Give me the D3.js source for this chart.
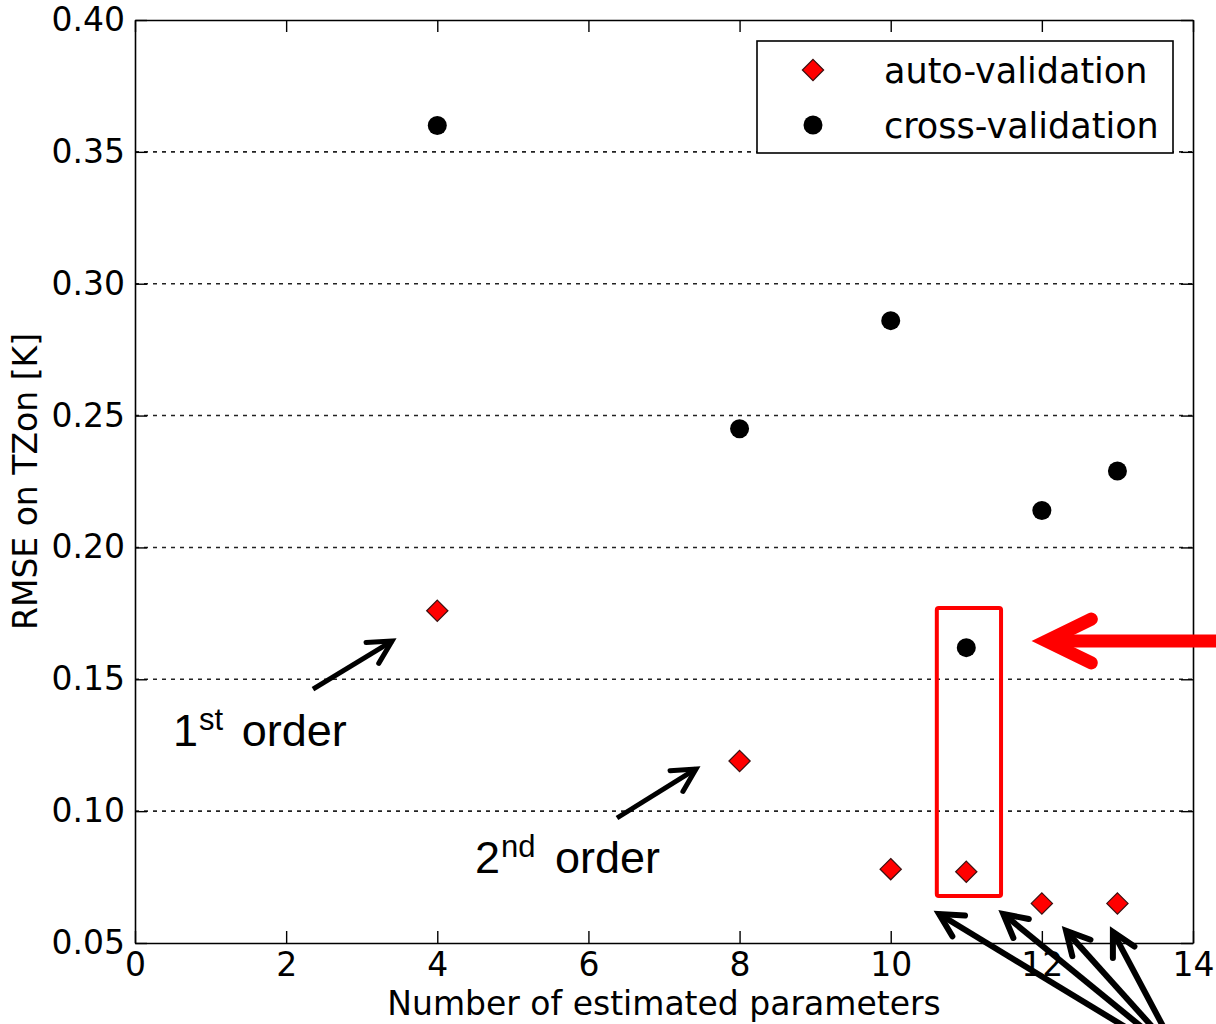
<!DOCTYPE html>
<html>
<head>
<meta charset="utf-8">
<script src="https://cdn.jsdelivr.net/npm/d3@7"></script>
<style>
  html, body { margin: 0; padding: 0; background: #fff; }
  svg { display: block; }
</style>
</head>
<body>
<div id="chart"></div>
<script>
// RMSE vs number of estimated parameters (auto- vs cross-validation)

const paramCounts = [4, 8, 10, 11, 12, 13];
const autoValidation = [0.176, 0.119, 0.078, 0.077, 0.065, 0.065];
const crossValidation = [0.360, 0.245, 0.286, 0.162, 0.214, 0.229];
const xTicks = [0, 2, 4, 6, 8, 10, 12, 14];
const yTicks = [0.05, 0.10, 0.15, 0.20, 0.25, 0.30, 0.35, 0.40];
const legendLabels = ['auto-validation', 'cross-validation'];

const W = 1216, H = 1024;
const m = {top: 20, right: 23, bottom: 81, left: 135};

const svg = d3.select('#chart').append('svg')
  .attr('width', W).attr('height', H);

const x = d3.scaleLinear().domain([0, 14]).range([m.left, W - m.right]);
const y = d3.scaleLinear().domain([0.05, 0.40]).range([H - m.bottom, m.top]);

const tickFont = '"DejaVu Sans", sans-serif';

// horizontal dotted grid
svg.append('g').selectAll('line')
  .data(yTicks.slice(1, -1)).enter().append('line')
  .attr('x1', x(0)).attr('x2', x(14))
  .attr('y1', d => y(d)).attr('y2', d => y(d))
  .attr('stroke', '#222').attr('stroke-width', 1.6)
  .attr('stroke-dasharray', '4,5');

// axes with inward ticks
function styleAxis(g) {
  g.select('.domain').attr('stroke', '#000').attr('stroke-width', 1.6);
  g.selectAll('.tick line').attr('stroke', '#000').attr('stroke-width', 1.4);
  g.selectAll('.tick text').attr('fill', '#000')
    .style('font-family', tickFont).style('font-size', '33px');
}

svg.append('g').attr('transform', `translate(0,${y(0.05)})`)
  .call(d3.axisBottom(x).tickValues(xTicks).tickFormat(d3.format('d'))
    .tickSizeInner(-12).tickSizeOuter(0).tickPadding(10))
  .call(styleAxis);
svg.append('g').attr('transform', `translate(0,${y(0.40)})`)
  .call(d3.axisTop(x).tickValues(xTicks).tickFormat('')
    .tickSizeInner(-12).tickSizeOuter(0))
  .call(styleAxis);
svg.append('g').attr('transform', `translate(${x(0)},0)`)
  .call(d3.axisLeft(y).tickValues(yTicks).tickFormat(d3.format('.2f'))
    .tickSizeInner(-12).tickSizeOuter(0).tickPadding(10))
  .call(styleAxis);
svg.append('g').attr('transform', `translate(${x(14)},0)`)
  .call(d3.axisRight(y).tickValues(yTicks).tickFormat('')
    .tickSizeInner(-12).tickSizeOuter(0))
  .call(styleAxis);

// axis labels
svg.append('text')
  .attr('x', (x(0) + x(14)) / 2).attr('y', 1015)
  .attr('text-anchor', 'middle')
  .style('font-family', tickFont).style('font-size', '33px')
  .text('Number of estimated parameters');
svg.append('text')
  .attr('transform', `translate(37,${(y(0.05) + y(0.40)) / 2}) rotate(-90)`)
  .attr('text-anchor', 'middle')
  .style('font-family', tickFont).style('font-size', '33px')
  .text('RMSE on TZon [K]');

// markers
const diamond = d3.symbol().type(d3.symbolDiamond2).size(2 * 12 * 12);
svg.append('g').selectAll('circle')
  .data(paramCounts).enter().append('circle')
  .attr('cx', d => x(d)).attr('cy', (d, i) => y(crossValidation[i]))
  .attr('r', 9.5).attr('fill', '#000');
svg.append('g').selectAll('path')
  .data(paramCounts).enter().append('path')
  .attr('d', diamond)
  .attr('transform', (d, i) => `translate(${x(d)},${y(autoValidation[i])})`)
  .attr('fill', '#ff0000').attr('stroke', '#3a1010').attr('stroke-width', 1.2);

// legend
const lg = svg.append('g');
lg.append('rect').attr('x', 757).attr('y', 41).attr('width', 416).attr('height', 112)
  .attr('fill', '#fff').attr('stroke', '#000').attr('stroke-width', 1.6);
lg.append('path').attr('d', diamond).attr('transform', 'translate(813,70)')
  .attr('fill', '#ff0000').attr('stroke', '#3a1010').attr('stroke-width', 1.2);
lg.append('circle').attr('cx', 813).attr('cy', 125).attr('r', 9.5).attr('fill', '#000');
lg.selectAll('text').data(legendLabels).enter().append('text')
  .attr('x', 884).attr('y', (d, i) => 83 + i * 55)
  .style('font-family', tickFont).style('font-size', '35px')
  .text(d => d);

// annotations (in data units)
function arrow(g, x0, y0, x1, y1, color, width, head, spread) {
  const px0 = x(x0), py0 = y(y0), px1 = x(x1), py1 = y(y1);
  const a = Math.atan2(py0 - py1, px0 - px1);
  const s = spread * Math.PI / 180;
  g.append('line').attr('x1', px0).attr('y1', py0).attr('x2', px1).attr('y2', py1)
    .attr('stroke', color).attr('stroke-width', width).attr('stroke-linecap', 'butt');
  g.append('path')
    .attr('d', `M${px1 + head * Math.cos(a + s)},${py1 + head * Math.sin(a + s)}L${px1},${py1}L${px1 + head * Math.cos(a - s)},${py1 + head * Math.sin(a - s)}`)
    .attr('fill', 'none').attr('stroke', color).attr('stroke-width', width)
    .attr('stroke-linecap', 'round').attr('stroke-linejoin', 'miter');
}

const ann = svg.append('g');
ann.append('rect')
  .attr('x', x(10.61)).attr('y', y(0.1770))
  .attr('width', x(11.46) - x(10.61)).attr('height', y(0.0678) - y(0.1770))
  .attr('rx', 2).attr('fill', 'none').attr('stroke', '#ff0000').attr('stroke-width', 4);

arrow(ann, 14.6, 0.1645, 12.06, 0.1645, '#ff0000', 13, 50, 26);
arrow(ann, 2.355, 0.1463, 3.401, 0.1645, '#000', 5, 26, 28);
arrow(ann, 6.378, 0.0974, 7.423, 0.1160, '#000', 5, 26, 28);
arrow(ann, 13.17, 0.0170, 10.64, 0.0610, '#000', 6, 26, 28);
arrow(ann, 13.37, 0.0170, 11.49, 0.0610, '#000', 6, 26, 28);
arrow(ann, 13.50, 0.0170, 12.32, 0.0546, '#000', 6, 26, 28);
arrow(ann, 13.63, 0.0170, 12.94, 0.0542, '#000', 6, 26, 28);

const orderFont = '"Liberation Sans", Arial, sans-serif';
function orderLabel(px, py, num, sup, gap) {
  const t = ann.append('text').attr('x', px).attr('y', py)
    .style('font-family', orderFont).style('font-size', '45px').attr('fill', '#000');
  t.append('tspan').text(num);
  t.append('tspan').attr('dy', -16).attr('dx', 1).style('font-size', '31px').text(sup);
  t.append('tspan').attr('dy', 16).attr('dx', gap).text(' order');
}
orderLabel(173, 746, '1', 'st', 6);
orderLabel(475, 873, '2', 'nd', 7);
</script>
</body>
</html>
